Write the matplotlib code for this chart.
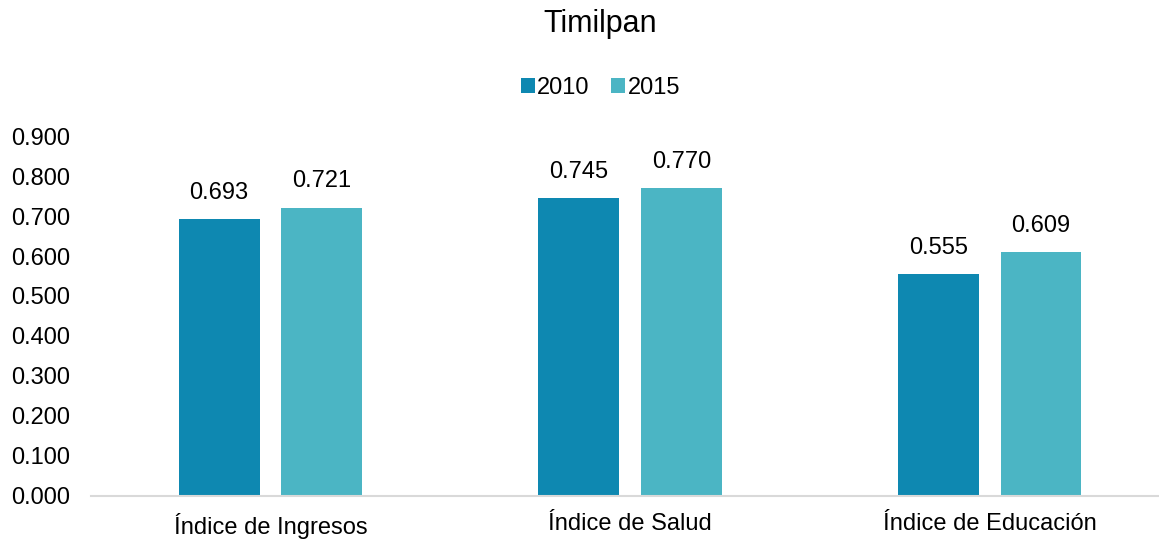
import matplotlib.pyplot as plt
import numpy as np

plt.rcParams['font.family'] = ['Liberation Sans', 'DejaVu Sans']

# datos del indice por componente
categorias = ['Índice de Ingresos', 'Índice de Salud', 'Índice de Educación']
anios = ['2010', '2015']
valores_2010 = [0.693, 0.745, 0.555]
valores_2015 = [0.721, 0.770, 0.609]
colores = ['#0E88B1', '#4BB5C4']

fig = plt.figure(figsize=(11.59, 5.41), dpi=100)
ax = fig.add_axes([0.0783, 0.0832, 0.9306, 0.6654])

x = np.arange(len(categorias))
ancho = 0.225
desp = 0.143

for serie, vals, col, d in zip(anios, [valores_2010, valores_2015], colores, [-desp, desp]):
    barras = ax.bar(x + d, vals, ancho, color=col, label=serie)
    for b, v in zip(barras, vals):
        ax.annotate(f'{v:.3f}', (b.get_x() + b.get_width() / 2, v),
                    xytext=(0, 11), textcoords='offset points',
                    ha='center', va='bottom', fontsize=17)

ax.set_xlim(-0.5, 2.5)
ax.set_ylim(0, 0.9)
ax.set_yticks(np.arange(0, 0.91, 0.1))
ax.set_yticklabels([f'{t:.3f}' for t in np.arange(0, 0.91, 0.1)], fontsize=17)
ax.set_xticks(x)
ax.set_xticklabels(categorias, fontsize=17)
ax.tick_params(length=0, pad=12)
ax.tick_params(axis='y', pad=15)

for s in ['top', 'right', 'left']:
    ax.spines[s].set_visible(False)
ax.spines['bottom'].set_color('#D9D9D9')
ax.spines['bottom'].set_linewidth(1.5)

fig.text(0.518, 0.955, 'Timilpan', ha='center', va='center', fontsize=22)
fig.legend(loc='center', bbox_to_anchor=(0.518, 0.838), ncol=2, frameon=False,
           fontsize=17, handlelength=0.6, handleheight=0.6, handletextpad=0.1,
           columnspacing=0.9)

fig.savefig('out.png', dpi=100)
